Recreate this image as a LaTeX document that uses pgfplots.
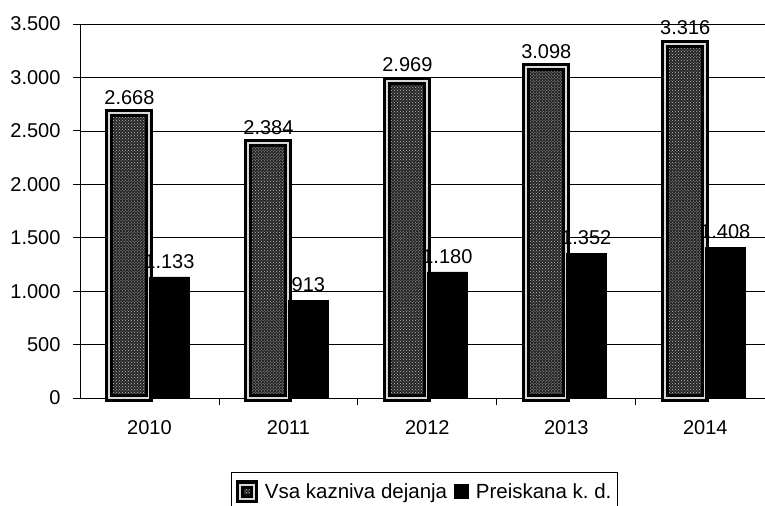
\documentclass[border=0pt]{standalone}
\usepackage{pgfplots}
\pgfplotsset{compat=1.18}
\usepackage{fontspec}
\setmainfont{Liberation Sans}
\usetikzlibrary{patterns,calc}
\begin{document}
\begin{tikzpicture}[x=1bp,y=1bp]
\begin{axis}[
  scale only axis,
  width=685bp, height=374bp,
  ybar=0pt, bar width=40bp,
  xmin=-0.5, xmax=4.43,
  ymin=0, ymax=3500,
  ytick={0,500,...,3500},
  xtick={0,1,2,3,4},
  xticklabels={2010,2011,2012,2013,2014},
  minor xtick={0.5,1.5,2.5,3.5},
  major x tick style={draw=none},
  tick align=outside,
  major tick length=7bp, minor tick length=7bp,
  tick style={black, line width=0.8bp},
  axis x line*=bottom, axis y line*=left,
  axis line style={black, line width=0.8bp},
  ymajorgrids, major grid style={black, line width=0.7bp},
  /pgf/number format/.cd, 1000 sep={.}, assume math mode=true,
  /pgfplots/.cd,
  ticklabel style={font=\fontsize{20bp}{24bp}\selectfont},
  yticklabel style={xshift=-9bp},
  xticklabel style={yshift=-12bp},
  nodes near coords,
  nodes near coords style={font=\fontsize{20bp}{24bp}\selectfont, /pgf/number format/1000 sep={.}, /pgf/number format/assume math mode=true},
  every node near coord/.append style={yshift=5bp},
  legend style={at={(axis description cs:0.503,-0.198)}, anchor=north, legend columns=-1,
    draw=black, line width=0.8bp, font=\fontsize{20.5bp}{24bp}\selectfont,
    /tikz/every even column/.append style={column sep=5bp}, inner xsep=4bp, inner ysep=8bp},
  legend image code/.code={\draw[#1, line width=0.6bp] (0bp,-7bp) rectangle (14bp,7bp); \path (19bp,0bp);},
  clip=false,
]
\addplot[fill=black!85, draw=black, line width=0.5bp, double=gray!30, double distance=2bp,
  postaction={pattern=crosshatch dots, pattern color=gray!50}]
  coordinates {(0,2668) (1,2384) (2,2969) (3,3098) (4,3316)};
\addlegendentry{Vsa kazniva dejanja}
\addplot[fill=black, draw=black]
  coordinates {(0,1133) (1,913) (2,1180) (3,1352) (4,1408)};
\addlegendentry{Preiskana k.\ d.}
\coordinate (bl) at (rel axis cs:0,0);
\coordinate (tr) at (rel axis cs:1,1);
\end{axis}
\pgfresetboundingbox
\path[use as bounding box] ($(bl)+(-80bp,-108bp)$) rectangle ($(tr)+(0bp,24bp)$);
\end{tikzpicture}
\end{document}
